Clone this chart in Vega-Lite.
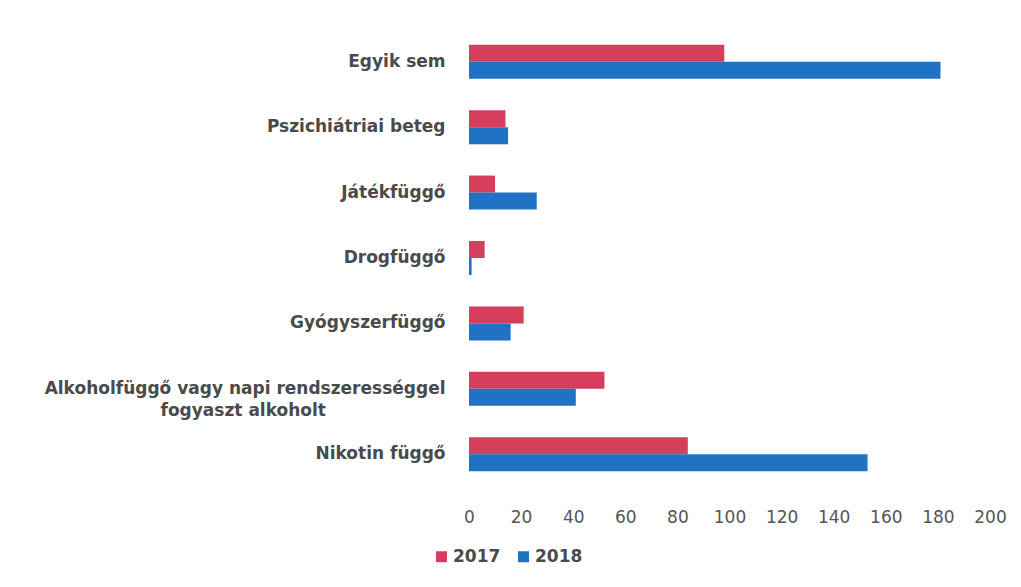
{
  "$schema": "https://vega.github.io/schema/vega-lite/v6.json",
  "autosize": "none",
  "width": 521,
  "height": 458,
  "padding": {"left": 469, "top": 29, "right": 31, "bottom": 100},
  "background": "white",
  "data": {
    "values": [
      {"category": "Egyik sem", "year": "2017", "value": 98},
      {"category": "Egyik sem", "year": "2018", "value": 181},
      {"category": "Pszichiátriai beteg", "year": "2017", "value": 14},
      {"category": "Pszichiátriai beteg", "year": "2018", "value": 15},
      {"category": "Játékfüggő", "year": "2017", "value": 10},
      {"category": "Játékfüggő", "year": "2018", "value": 26},
      {"category": "Drogfüggő", "year": "2017", "value": 6},
      {"category": "Drogfüggő", "year": "2018", "value": 1},
      {"category": "Gyógyszerfüggő", "year": "2017", "value": 21},
      {"category": "Gyógyszerfüggő", "year": "2018", "value": 16},
      {"category": "Alkoholfüggő vagy napi rendszerességgel fogyaszt alkoholt", "year": "2017", "value": 52},
      {"category": "Alkoholfüggő vagy napi rendszerességgel fogyaszt alkoholt", "year": "2018", "value": 41},
      {"category": "Nikotin függő", "year": "2017", "value": 84},
      {"category": "Nikotin függő", "year": "2018", "value": 153}
    ]
  },
  "mark": {"type": "bar"},
  "encoding": {
    "y": {
      "field": "category",
      "type": "nominal",
      "sort": null,
      "scale": {"paddingInner": 0.48, "paddingOuter": 0.24},
      "axis": {
        "title": null,
        "domain": false,
        "ticks": false,
        "labelPadding": 24,
        "labelFont": "DejaVu Sans",
        "labelFontWeight": "bold",
        "labelFontSize": 17,
        "labelColor": "#4a4a4a",
        "labelLimit": 600,
        "labelLineHeight": 22,
        "labelExpr": "datum.label == 'Alkoholfüggő vagy napi rendszerességgel fogyaszt alkoholt' ? ['Alkoholfüggő vagy napi rendszerességgel', 'fogyaszt alkoholt\u2800\u2800\u2800\u2800\u2800\u2800\u2800\u2800\u2800'] : datum.label"
      }
    },
    "yOffset": {"field": "year", "type": "nominal", "scale": {"paddingInner": 0, "paddingOuter": 0}},
    "x": {
      "field": "value",
      "type": "quantitative",
      "scale": {"domain": [0, 200], "nice": false},
      "axis": {
        "title": null,
        "domain": false,
        "ticks": false,
        "grid": false,
        "values": [0, 20, 40, 60, 80, 100, 120, 140, 160, 180, 200],
        "labelPadding": 22,
        "labelFont": "DejaVu Sans",
        "labelFontSize": 17,
        "labelFontWeight": "normal",
        "labelColor": "#555555",
        "labelFlush": false
      }
    },
    "color": {
      "field": "year",
      "type": "nominal",
      "scale": {"domain": ["2017", "2018"], "range": ["#d63f5c", "#1f72c4"]},
      "legend": {
        "title": null,
        "orient": "none",
        "direction": "horizontal",
        "legendX": -36,
        "legendY": 519,
        "symbolType": "square",
        "symbolSize": 120,
        "symbolStrokeWidth": 0,
        "labelFont": "DejaVu Sans",
        "labelFontSize": 17,
        "labelFontWeight": "bold",
        "labelColor": "#4a4a4a",
        "columnPadding": 14,
        "labelOffset": 3
      }
    }
  },
  "config": {"view": {"stroke": null}}
}
